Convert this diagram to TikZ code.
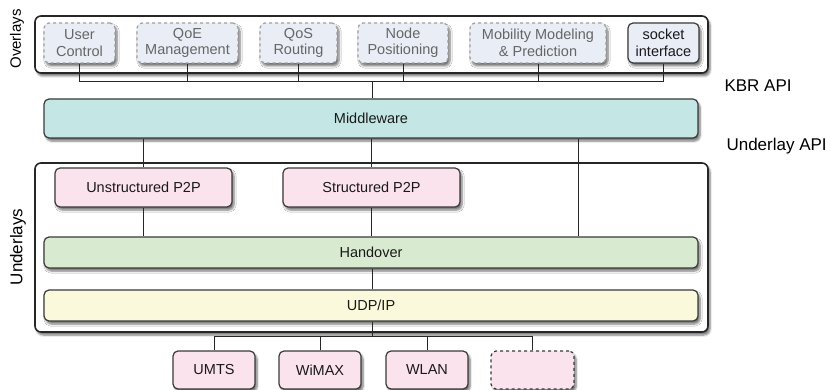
\documentclass[tikz,border=0pt]{standalone}
\usepackage{fontspec}
\setmainfont{Liberation Sans}
\usetikzlibrary{shadows,shadows.blur}

\definecolor{ovfill}{HTML}{E9EDF6}
\definecolor{mwfill}{HTML}{C4E7E5}
\definecolor{pkfill}{HTML}{FBE3EE}
\definecolor{hofill}{HTML}{D8EBD1}
\definecolor{ipfill}{HTML}{FAF9DB}
\definecolor{edge}{HTML}{3A3A3A}

\tikzset{
	shadowed/.style={blur shadow={shadow xshift=2pt, shadow yshift=-3pt, shadow blur steps=6, shadow opacity=55}},
	layer/.style={draw=edge, line width=1.2pt, rounded corners=5pt, inner sep=0pt, shadowed,
		font=\fontsize{14.5}{16.5}\selectfont, align=center, text=black!90},
	frame/.style={draw=black!85, line width=1.6pt, fill=white, rounded corners=6pt, inner sep=0pt, shadowed},
	svc/.style={layer, fill=ovfill, draw=gray!75, dashed, text=black!60, minimum height=40pt},
	wire/.style={line width=0.9pt, black!85},
	apilabel/.style={anchor=west, font=\fontsize{17}{19}\selectfont}
}

\begin{document}
\begin{tikzpicture}[x=1pt, y=-1pt]
	\useasboundingbox (0,0) rectangle (826,390);
	% overlay frame and services
	\node[frame, minimum width=673pt, minimum height=57pt] (ovl) at (371.5,44.5) {};
	\node[rotate=90, font=\fontsize{15}{17}\selectfont] (ovllabel) at (17,39) {Overlays};
	\node[svc, minimum width=71pt] (uctrl) at (79.5,43) {User\\Control};
	\node[svc, minimum width=101pt] (qoe) at (187.5,43) {QoE\\Management};
	\node[svc, minimum width=77pt] (qos) at (298.5,43) {QoS\\Routing};
	\node[svc, minimum width=90pt] (npos) at (403,43) {Node\\Positioning};
	\node[svc, minimum width=136pt] (mob) at (538,43) {Mobility Modeling\\\& Prediction};
	\node[layer, fill=ovfill, minimum width=71pt, minimum height=40pt] (sock) at (663.5,43) {socket\\interface};
	\coordinate (kbr) at (372,81);
	\foreach \s in {uctrl,qoe,qos,npos,mob,sock}
		\draw[wire] (\s.south) |- (kbr);

	% middleware
	\node[layer, fill=mwfill, minimum width=654pt, minimum height=39pt] (mw) at (371,118.5) {Middleware};
	\draw[wire] (kbr) -- (mw.north -| kbr);
	\node[apilabel] (kbrapi) at (721,86) {KBR API};
	\node[apilabel] (ulapi) at (723,146) {Underlay API};

	% underlay frame and layers
	\node[frame, minimum width=673pt, minimum height=169pt] (ull) at (371.5,247.5) {};
	\node[rotate=90, font=\fontsize{17}{19}\selectfont] (ulllabel) at (18,247) {Underlays};
	\node[layer, fill=pkfill, minimum width=177pt, minimum height=39pt] (unstr) at (143.5,187.5) {Unstructured P2P};
	\node[layer, fill=pkfill, minimum width=177pt, minimum height=39pt] (str) at (371.5,187.5) {Structured P2P};
	\node[layer, fill=hofill, minimum width=654pt, minimum height=31pt] (ho) at (371,252.5) {Handover};
	\node[layer, fill=ipfill, minimum width=654pt, minimum height=31pt] (udp) at (371,305.5) {UDP/IP};
	\draw[wire] (mw.south -| unstr) -- (unstr.north);
	\draw[wire] (mw.south -| str) -- (str.north);
	\draw[wire] (mw.south -| 578,0) -- (ho.north -| 578,0);
	\draw[wire] (unstr.south) -- (ho.north -| unstr);
	\draw[wire] (str.south) -- (ho.north -| str);
	\draw[wire] (ho.south -| 372,0) -- (udp.north -| 372,0);

	% access networks
	\foreach \n/\x/\t in {umts/214/UMTS, wimax/320/WiMAX, wlan/427/WLAN}
		\node[layer, fill=pkfill, minimum width=82pt, minimum height=38pt] (\n) at (\x,370) {\t};
	\node[layer, fill=pkfill, dashed, minimum width=83pt, minimum height=38pt] (other) at (532.5,370) {};
	\coordinate (ubus) at (372,336);
	\draw[wire] (udp.south -| ubus) -- (ubus);
	\foreach \n in {umts,wimax,wlan,other}
		\draw[wire] (\n.north) |- (ubus);
\end{tikzpicture}
\end{document}
